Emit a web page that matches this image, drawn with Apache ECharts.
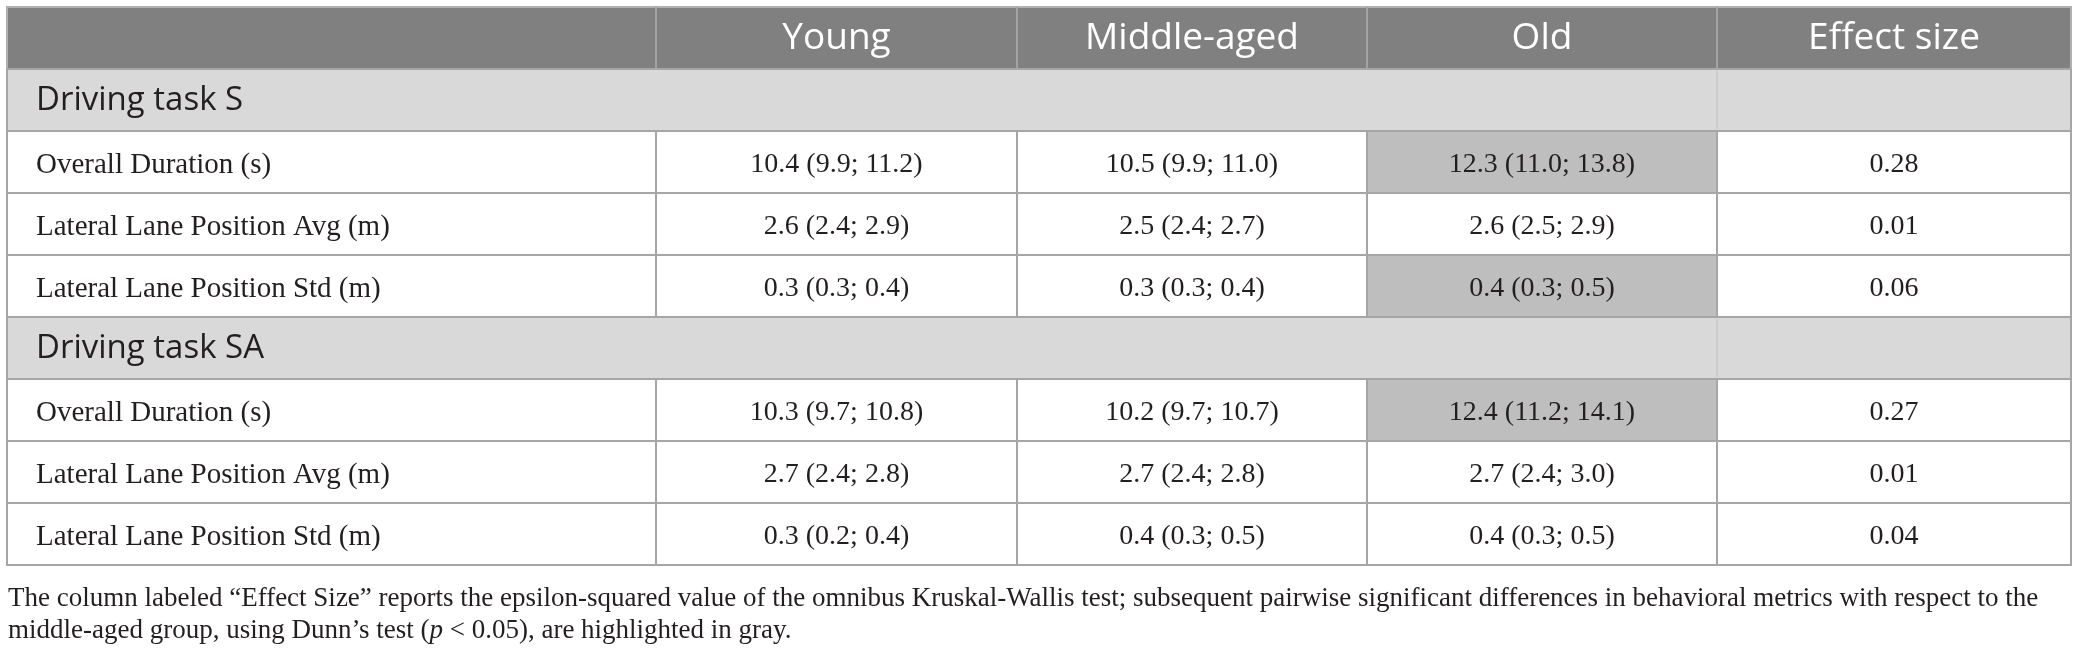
<!DOCTYPE html>
<html>
<head>
<meta charset="utf-8">
<title>Driving task metrics by age group</title>
<script src="https://cdn.jsdelivr.net/npm/echarts@6/dist/echarts.min.js"></script>
<style>
  html, body { margin: 0; padding: 0; background: #fff; }
  #main { width: 2078px; height: 658px; }
</style>
</head>
<body>
<div id="main"></div>
<script>
// table content
var columns = ['', 'Young', 'Middle-aged', 'Old', 'Effect size'];
var sections = ['Driving task S', 'Driving task SA'];
var metrics = ['Overall Duration (s)', 'Lateral Lane Position Avg (m)', 'Lateral Lane Position Std (m)'];
// one entry per metric row, task S first then task SA
var young  = ['10.4 (9.9; 11.2)', '2.6 (2.4; 2.9)', '0.3 (0.3; 0.4)', '10.3 (9.7; 10.8)', '2.7 (2.4; 2.8)', '0.3 (0.2; 0.4)'];
var middle = ['10.5 (9.9; 11.0)', '2.5 (2.4; 2.7)', '0.3 (0.3; 0.4)', '10.2 (9.7; 10.7)', '2.7 (2.4; 2.8)', '0.4 (0.3; 0.5)'];
var old    = ['12.3 (11.0; 13.8)', '2.6 (2.5; 2.9)', '0.4 (0.3; 0.5)', '12.4 (11.2; 14.1)', '2.7 (2.4; 3.0)', '0.4 (0.3; 0.5)'];
var effect = ['0.28', '0.01', '0.06', '0.27', '0.01', '0.04'];
// 1 = significant vs middle-aged group (gray cell in the Old column)
var oldSignificant = [1, 0, 1, 1, 0, 0];

var captionLines = [
    'The column labeled \u201cEffect Size\u201d reports the epsilon-squared value of the omnibus Kruskal-Wallis test; subsequent pairwise significant differences in behavioral metrics with respect to the',
    'middle-aged group, using Dunn\u2019s test ({i|p} < 0.05), are highlighted in gray.'
];

// layout (column widths in px along the x axis)
var colWidths = [649, 361, 350, 350, 354];
var colEdges = [0];
colWidths.forEach(function (w, i) { colEdges.push(colEdges[i] + w); });

var BORDER = '#a6a6a6';
var INK = '#231f20';

// build table rows
var rows = [{ kind: 'header', cells: columns }];
var k = 0;
sections.forEach(function (sec) {
    rows.push({ kind: 'section', cells: [sec] });
    metrics.forEach(function (m) {
        rows.push({
            kind: 'metric',
            cells: [m, young[k], middle[k], old[k], effect[k]],
            hi: [0, 0, 0, oldSignificant[k], 0]
        });
        k++;
    });
});

var chart = echarts.init(document.getElementById('main'));

function renderRow(params, api) {
    var r = rows[params.dataIndex];
    var yc = api.coord([0, params.dataIndex])[1];
    var h = api.size([0, 1])[1];
    var top = yc - h / 2;
    var xs = colEdges.map(function (e) { return api.coord([e, params.dataIndex])[0]; });
    var children = [];

    if (r.kind === 'header') {
        children.push({ type: 'rect', shape: { x: xs[0], y: top, width: xs[5] - xs[0], height: h },
            style: { fill: '#808080', stroke: '#b0b0b0', lineWidth: 2 } });
        for (var i = 1; i < 5; i++) {
            children.push({ type: 'line', shape: { x1: xs[i], y1: top, x2: xs[i], y2: top + h },
                style: { stroke: '#a3a3a3', lineWidth: 2 } });
            children.push({ type: 'text', x: (xs[i] + xs[i + 1]) / 2, y: yc,
                style: { text: r.cells[i], fill: '#fff', font: '37px "Open Sans"', align: 'center', verticalAlign: 'middle' } });
        }
    } else if (r.kind === 'section') {
        children.push({ type: 'rect', shape: { x: xs[0], y: top, width: xs[5] - xs[0], height: h },
            style: { fill: '#d9d9d9', stroke: BORDER, lineWidth: 2 } });
        children.push({ type: 'line', shape: { x1: xs[4], y1: top + 2, x2: xs[4], y2: top + h - 2 },
            style: { stroke: '#cdcdcd', lineWidth: 2 } });
        children.push({ type: 'text', x: xs[0] + 29, y: yc + 1,
            style: { text: r.cells[0], fill: INK, font: '33px "Open Sans"', align: 'left', verticalAlign: 'middle' } });
    } else {
        for (var j = 0; j < 5; j++) {
            children.push({ type: 'rect', shape: { x: xs[j], y: top, width: xs[j + 1] - xs[j], height: h },
                style: { fill: r.hi[j] ? '#bebebe' : '#fff', stroke: BORDER, lineWidth: 2 } });
            children.push({ type: 'text',
                x: j === 0 ? xs[0] + 29 : (xs[j] + xs[j + 1]) / 2, y: yc + 3,
                style: { text: r.cells[j], fill: INK,
                    font: (j === 0 ? '29px' : '28px') + ' "Liberation Serif"',
                    align: j === 0 ? 'left' : 'center', verticalAlign: 'middle' } });
        }
    }
    return { type: 'group', children: children };
}

chart.setOption({
    animation: false,
    title: {
        text: captionLines.join('\n'),
        left: 8,
        top: 583,
        padding: 0,
        textStyle: {
            fontFamily: 'Liberation Serif', fontSize: 27, fontWeight: 'normal', color: INK, lineHeight: 32,
            rich: { i: { fontFamily: 'Liberation Serif', fontSize: 27, fontStyle: 'italic', color: INK, lineHeight: 32 } }
        }
    },
    grid: { left: 7, right: 7, top: 7, bottom: 93 },
    xAxis: { type: 'value', min: 0, max: colEdges[colEdges.length - 1], show: false },
    yAxis: { type: 'category', inverse: true, show: false,
        data: rows.map(function (r, i) { return String(i); }) },
    series: [{
        type: 'custom',
        renderItem: renderRow,
        clip: false,
        data: rows.map(function (r, i) { return [0, i]; })
    }]
});
</script>
</body>
</html>
